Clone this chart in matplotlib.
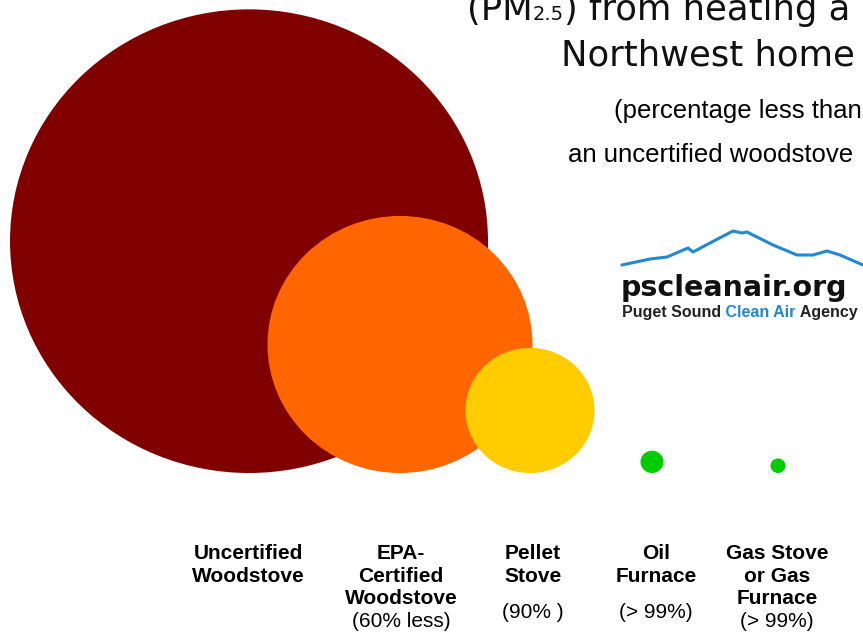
import matplotlib
matplotlib.use("Agg")
import matplotlib.pyplot as plt
from matplotlib.patches import Ellipse

# heating types, left to right
categories = ["Uncertified\nWoodstove", "EPA-\nCertified\nWoodstove", "Pellet\nStove",
              "Oil\nFurnace", "Gas Stove\nor Gas\nFurnace"]
percent_less = ["", "(60% less)", "(90% )", "(> 99%)", "(> 99%)"]
# bubble size (diameter, in chart units)
bubble_size = [478, 265, 129, 23, 15]
colors = ["#800000", "#FF6600", "#FFCC00", "#00CC00", "#00CC00"]

title_lines = ["(PM", "2.5", ") from heating a", "Northwest home"]
subtitle_lines = ["(percentage less than", "an uncertified woodstove"]

# blue mountain outline of the logo
mountain_x = [622, 650, 667, 688, 693, 710, 733, 742, 747, 773, 797, 813, 827, 840, 863]
mountain_y = [265, 259, 257, 248, 252, 243, 231, 233, 232, 245, 255, 255, 251, 255, 265]

W, H = 863, 632
fig = plt.figure(figsize=(W / 100, H / 100), dpi=100)
ax = fig.add_axes([0, 0, 1, 1])
ax.set_xlim(0, W)
ax.set_ylim(H, 0)
ax.axis("off")

centers = [249, 400, 530, 652, 778]
label_x = [248, 401, 533, 656, 777]
base = 473
for cx, d, c in zip(centers, bubble_size, colors):
    h = d * 0.97
    ax.add_patch(Ellipse((cx, base - h / 2), d, h, color=c, lw=0))

fig.canvas.draw()
rend = fig.canvas.get_renderer()


def pieces(x, y, parts):
    for s, kw in parts:
        t = ax.text(x, y, s, ha="left", va="baseline", **kw)
        bb = t.get_window_extent(rend)
        x = ax.transData.inverted().transform((bb.x1, bb.y0))[0]


tfont = dict(family="DejaVu Sans", color="#111111")
pieces(467, 20, [(title_lines[0], dict(fontsize=25.5, **tfont)),
                 (title_lines[1], dict(fontsize=14, **tfont)),
                 (title_lines[2], dict(fontsize=25.5, **tfont))])
ax.text(561, 66, title_lines[3], fontsize=25.5, ha="left", va="baseline", **tfont)

sfont = dict(family="Liberation Sans", fontsize=18.5, color="black", ha="left", va="baseline")
ax.text(614, 118, subtitle_lines[0], **sfont)
ax.text(568, 162, subtitle_lines[1], **sfont)

# logo
ax.plot(mountain_x, mountain_y, color="#2288D0", lw=2.2, solid_capstyle="round")
ax.text(621, 296, "pscleanair.org", family="DejaVu Sans", fontweight="bold",
        fontsize=20.5, ha="left", va="baseline", color="#111111")
lf = dict(family="Liberation Sans", fontweight="bold", fontsize=11.5)
pieces(622, 317, [("Puget Sound", dict(color="#222222", **lf)),
                  (" Clean Air", dict(color="#2288D0", **lf)),
                  (" Agency", dict(color="#222222", **lf))])

# category labels
line_gap = 22.7
for x, cat, pct in zip(label_x, categories, percent_less):
    lines = cat.split("\n")
    for i, ln in enumerate(lines):
        ax.text(x, 559 + i * line_gap, ln, family="Liberation Sans", fontweight="bold",
                fontsize=15, ha="center", va="baseline", color="black")
    if pct:
        if len(lines) == 2:
            py = 618
        else:
            py = 559 + len(lines) * line_gap
        ax.text(x, py, pct, family="Liberation Sans", fontsize=15,
                ha="center", va="baseline", color="black")

fig.savefig("out.png", dpi=100)
